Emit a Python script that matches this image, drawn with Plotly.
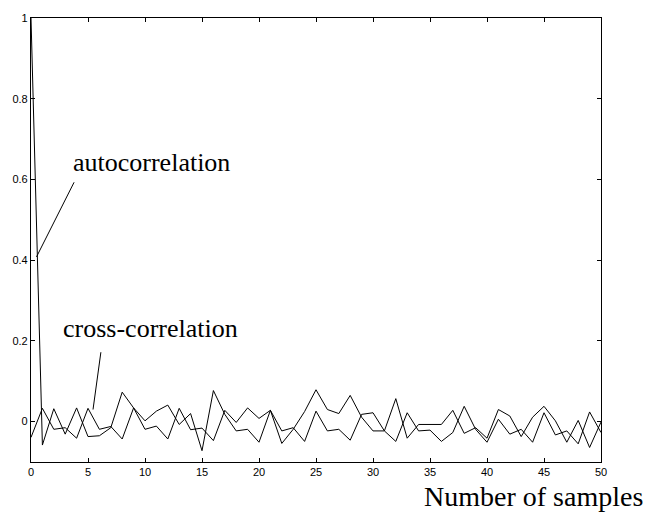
import plotly.graph_objects as go

lags = list(range(51))
autocorr = [1.0, -0.058, 0.032, -0.031, 0.034, -0.037, -0.035, -0.015, 0.073, 0.034,
            0.002, 0.026, 0.041, -0.007, 0.020, -0.072, 0.077, 0.018, -0.023, -0.019,
            -0.051, 0.028, -0.054, -0.019, 0.025, 0.079, 0.030, 0.020, 0.065, 0.011,
            -0.023, -0.023, 0.057, -0.041, -0.007, -0.007, -0.007, 0.028, -0.029, -0.015,
            -0.041, 0.030, 0.014, -0.037, 0.011, 0.038, 0.002, -0.051, 0.003, -0.064,
            -0.001]
crosscorr = [-0.039, 0.033, -0.019, -0.015, -0.041, 0.033, -0.019, -0.012, -0.043, 0.034,
             -0.019, -0.011, -0.043, 0.033, -0.020, -0.016, -0.047, 0.028, -0.002, 0.034,
             0.008, 0.028, -0.023, -0.015, -0.049, 0.026, -0.023, -0.019, -0.046, 0.018,
             0.022, -0.023, -0.049, 0.022, -0.023, -0.021, -0.049, -0.027, 0.038, -0.019,
             -0.051, 0.006, -0.031, -0.019, -0.051, 0.022, -0.033, -0.023, -0.055, 0.024,
             -0.027]
x_ticks = [0, 5, 10, 15, 20, 25, 30, 35, 40, 45, 50]
y_ticks = [0, 0.2, 0.4, 0.6, 0.8, 1]
y_tick_labels = ["0", "0.2", "0.4", "0.6", "0.8", "1"]

fig = go.Figure()
fig.add_trace(go.Scatter(x=lags, y=autocorr, mode="lines",
                         line=dict(color="black", width=1), name="autocorrelation"))
fig.add_trace(go.Scatter(x=lags, y=crosscorr, mode="lines",
                         line=dict(color="black", width=1), name="cross-correlation"))

serif = "Liberation Serif, Times New Roman, serif"
fig.add_annotation(x=3.55, y=0.6, xref="x", yref="y", text="autocorrelation",
                   showarrow=False, xanchor="left", yanchor="bottom",
                   font=dict(family=serif, size=26, color="black"))
fig.add_shape(type="line", x0=3.78, y0=0.593, x1=0.48, y1=0.408, xref="x", yref="y",
              line=dict(color="black", width=1))
fig.add_annotation(x=2.6, y=0.19, xref="x", yref="y", text="cross-correlation",
                   showarrow=False, xanchor="left", yanchor="bottom",
                   font=dict(family=serif, size=26, color="black"))
fig.add_shape(type="line", x0=6.13, y0=0.172, x1=5.44, y1=0.030, xref="x", yref="y",
              line=dict(color="black", width=1))

pw, ph = 651 - 30 - 50, 515 - 12 - 53
fig.add_annotation(x=(645 - 30) / pw, y=(515 - 53 - 497) / ph, xref="paper", yref="paper",
                   text="Number of samples", showarrow=False,
                   xanchor="right", yanchor="middle",
                   font=dict(family=serif, size=28, color="black"))

axis_common = dict(showgrid=False, zeroline=False, showline=True, linecolor="black",
                   linewidth=1.2, mirror="ticks", ticks="inside", ticklen=4,
                   tickcolor="black", tickfont=dict(family="Liberation Sans, Arial, sans-serif",
                                                    size=11, color="black"))
fig.update_xaxes(range=[0, 50], tickvals=x_ticks, **axis_common)
fig.update_yaxes(range=[-0.1, 1], tickvals=y_ticks, ticktext=y_tick_labels, **axis_common)

fig.update_layout(width=651, height=515, showlegend=False,
                  plot_bgcolor="white", paper_bgcolor="white",
                  margin=dict(l=30, r=50, t=12, b=53))

fig.write_html("out.html")
